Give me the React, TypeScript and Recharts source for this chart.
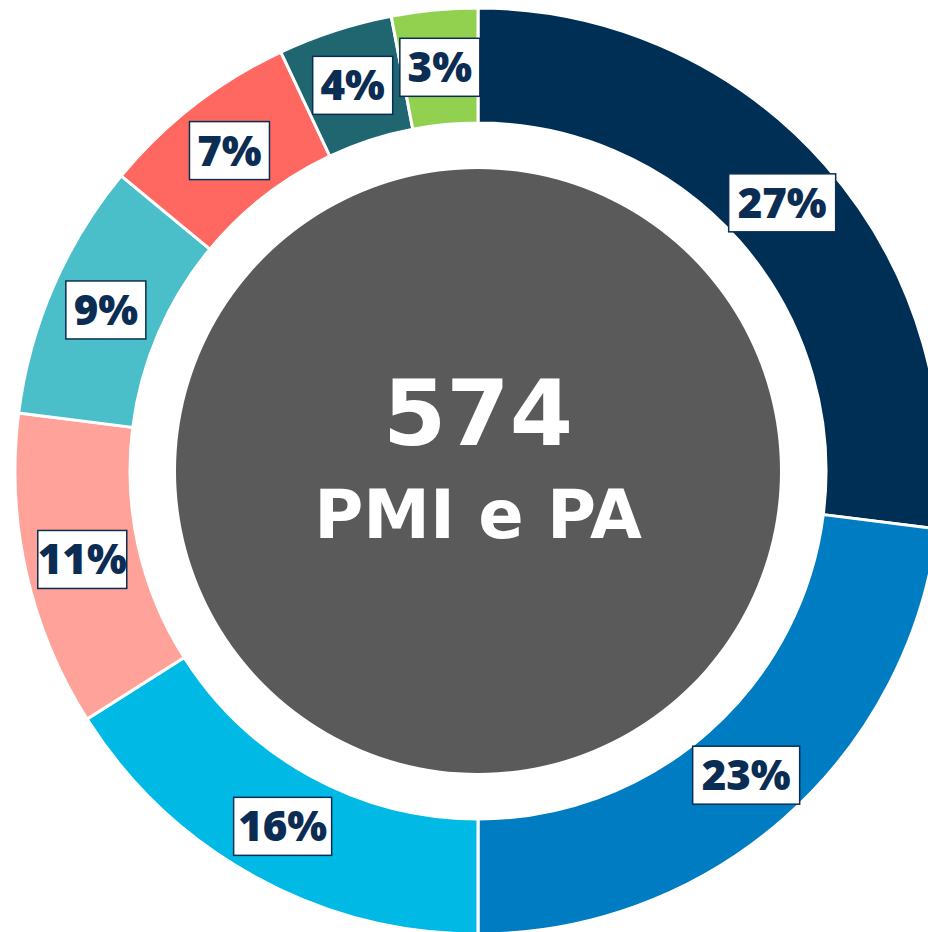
import { PieChart, Pie, Cell } from "recharts";

const shares = ["PMI 1", "PMI 2", "PMI 3", "PMI 4", "PMI 5", "PMI 6", "PMI 7", "PMI 8"];
const values = [27, 23, 16, 11, 9, 7, 4, 3];
const colors = ["#002F56", "#007DC2", "#00BAE5", "#FFA29A", "#4ABFCA", "#FF6861", "#1F6670", "#92D050"];
const total = 574;
const centerTitle = "PMI e PA";

const data = shares.map((name, i) => ({ name, value: values[i] }));
const hole = [{ name: "totale", value: total }];

const RAD = Math.PI / 180;
const NAVY = "#0B2D54";

const textWidth = (s: string) =>
  s.split("").reduce((w, c) => w + (c === "1" ? 18 : c === "%" ? 37 : 27), 0);

const renderLabel = (props: any) => {
  const { cx, cy, midAngle, innerRadius, outerRadius, value } = props;
  const r = (innerRadius + outerRadius) / 2;
  const x = cx + r * Math.cos(-midAngle * RAD);
  const y = cy + r * Math.sin(-midAngle * RAD);
  const txt = `${value}%`;
  const w = textWidth(txt) + 16;
  const h = 58;
  return (
    <g>
      <rect x={x - w / 2} y={y - h / 2} width={w} height={h} fill="#fff" stroke={NAVY} strokeWidth={1.5} />
      <text
        x={x}
        y={y + 15}
        textAnchor="middle"
        fill={NAVY}
        fontFamily="Open Sans"
        fontWeight={800}
        fontSize={42}
      >
        {txt}
      </text>
    </g>
  );
};

// the hole pie has a single sector, so its label is the centre text
const renderCenter = (props: any) => {
  const { cx, cy } = props;
  return (
    <g>
      <text x={cx} y={cy - 26} fontSize={91} fontFamily="DejaVu Sans" fontWeight={700} fill="#fff" textAnchor="middle">
        {total}
      </text>
      <text x={cx} y={cy + 67} fontSize={67} fontFamily="DejaVu Sans" fontWeight={700} fill="#fff" textAnchor="middle">
        {centerTitle}
      </text>
    </g>
  );
};

export default function App() {
  return (
    <div style={{ position: "absolute", left: 0, top: 0, width: 928, height: 932, overflow: "hidden", background: "#fff" }}>
      <PieChart width={928} height={932} margin={{ top: 0, right: 0, bottom: 0, left: 0 }}>
        <Pie
          data={hole}
          dataKey="value"
          cx={478}
          cy={471}
          outerRadius={302}
          innerRadius={0}
          fill="#5A5A5A"
          stroke="none"
          label={renderCenter}
          labelLine={false}
          isAnimationActive={false}
        />
        <Pie
          data={data}
          dataKey="value"
          cx={478}
          cy={471}
          innerRadius={348}
          outerRadius={463}
          startAngle={90}
          endAngle={-270}
          stroke="#fff"
          strokeWidth={3}
          label={renderLabel}
          labelLine={false}
          isAnimationActive={false}
        >
          {data.map((d, i) => (
            <Cell key={d.name} fill={colors[i]} />
          ))}
        </Pie>
      </PieChart>
    </div>
  );
}
